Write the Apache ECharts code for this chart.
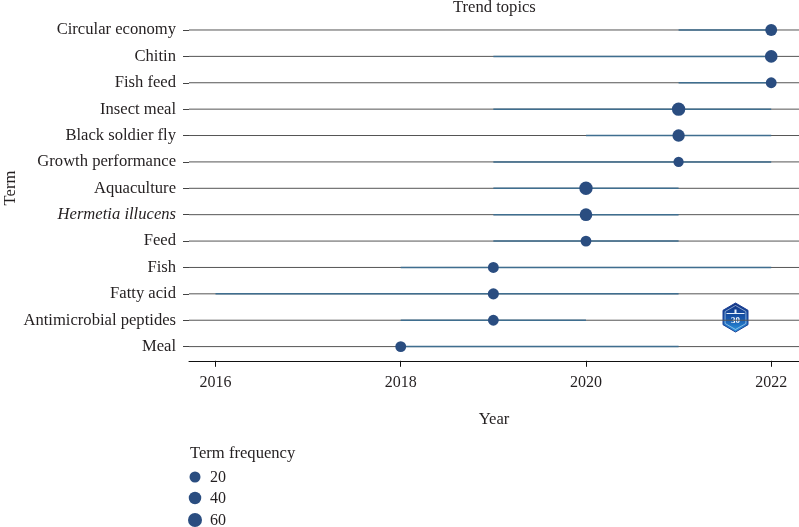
<!DOCTYPE html>
<html lang="en" style="height: 100%">

<head>
  <meta charset="utf-8">
</head>

<body style="height: 100%; margin: 0; background: #fff">
  <div id="container" style="height: 100%"></div>

  <script type="text/javascript" src="https://fastly.jsdelivr.net/npm/echarts@6/dist/echarts.min.js"></script>
  <script type="text/javascript">
    // values, top row first
    var terms = ['Circular economy', 'Chitin', 'Fish feed', 'Insect meal', 'Black soldier fly', 'Growth performance',
      'Aquaculture', 'Hermetia illucens', 'Feed', 'Fish', 'Fatty acid', 'Antimicrobial peptides', 'Meal'];
    var startYear = [2021, 2019, 2021, 2019, 2020, 2019, 2019, 2019, 2019, 2018, 2016, 2018, 2018];
    var endYear = [2022, 2022, 2022, 2022, 2022, 2022, 2021, 2021, 2021, 2022, 2021, 2020, 2021];
    var peakYear = [2022, 2022, 2022, 2021, 2021, 2021, 2020, 2020, 2020, 2019, 2019, 2019, 2018];
    var frequency = [32, 42, 18, 52, 38, 10, 52, 42, 18, 18, 22, 18, 18];
    var yearTicks = [2016, 2018, 2020, 2022];
    var legendValues = [20, 40, 60];

    var FONT = '"Liberation Serif", serif';
    var FONT_SIZE = 16.6;
    var TEXT = '#231f20';
    var DOT = '#2a4d80';
    var X_MIN = 2015.714;
    var X_MAX = 2022.3;

    function dotSize(freq) {
      return 9.5 + freq * 0.075;
    }

    var series = [];
    terms.forEach(function (term, i) {
      // full-width row rule
      series.push({
        type: 'line', data: [[X_MIN, term], [X_MAX, term]], symbol: 'none', silent: true, z: 1,
        lineStyle: { color: '#555', width: 1 }
      });
      series.push({
        type: 'line',
        data: [[startYear[i], term], [endYear[i], term]],
        symbol: 'none',
        silent: true,
        z: 3,
        lineStyle: { color: '#3f6e8f', width: 1.5 }
      });
    });
    series.push({
      type: 'scatter',
      z: 4,
      data: terms.map(function (term, i) {
        return { value: [peakYear[i], term], symbolSize: dotSize(frequency[i]) };
      }),
      itemStyle: { color: DOT, opacity: 1 }
    });

    // size legend, same scale as the dots
    var legendItems = [{
      type: 'text', x: 190, y: 445,
      style: { text: 'Term frequency', font: FONT_SIZE + 'px ' + FONT, fill: TEXT }
    }];
    legendValues.forEach(function (v, i) {
      var y = [477, 498, 520][i];
      legendItems.push({
        type: 'circle', shape: { cx: 195, cy: y, r: dotSize(v) / 2 }, style: { fill: DOT }
      });
      legendItems.push({
        type: 'text', x: 210, y: y - 7,
        style: { text: String(v), font: '16px ' + FONT, fill: TEXT }
      });
    });

    // the axis name gets pushed off the page by the long labels, so place it by hand
    var termName = {
      type: 'text', x: 11, y: 188, rotation: Math.PI / 2,
      style: { text: 'Term', font: FONT_SIZE + 'px ' + FONT, fill: TEXT, align: 'center', verticalAlign: 'middle' }
    };

    // journal badge sitting over the Antimicrobial peptides row
    var badge = {
      type: 'group', x: 735.5, y: 317.5, z: 20,
      children: [
        {
          type: 'polygon',
          shape: { points: [[0, -14.5], [12.5, -7.2], [12.5, 7.2], [0, 14.5], [-12.5, 7.2], [-12.5, -7.2]] },
          style: {
            stroke: '#1c3f94', lineWidth: 1,
            fill: new echarts.graphic.LinearGradient(0, 0, 0, 1, [
              { offset: 0, color: '#12307f' },
              { offset: 0.55, color: '#1757ad' },
              { offset: 1, color: '#2f9de2' }
            ])
          }
        },
        {
          type: 'polygon',
          shape: { points: [[0, -12], [10.4, -6], [10.4, 6], [0, 12], [-10.4, 6], [-10.4, -6]] },
          style: { stroke: '#cfe3f7', lineWidth: 0.6, fill: 'none' }
        },
        { type: 'rect', shape: { x: -9, y: -4.5, width: 18, height: 1 }, style: { fill: '#e6f0fb' } },
        { type: 'rect', shape: { x: -1, y: -8, width: 2, height: 4 }, style: { fill: '#e6f0fb' } },
        {
          type: 'text', x: 0, y: 3,
          style: { text: '30', font: 'bold 9px ' + FONT, fill: '#ffffff', align: 'center', verticalAlign: 'middle' }
        }
      ]
    };

    var myChart = echarts.init(document.getElementById('container'), null, { renderer: 'canvas' });

    myChart.setOption({
      animation: false,
      title: {
        text: 'Trend topics',
        left: 448,
        top: -6,
        textStyle: { fontFamily: FONT, fontSize: FONT_SIZE, fontWeight: 'normal', color: TEXT }
      },
      grid: { left: 189, right: 0, top: 16.8, height: 343, outerBoundsMode: 'none' },
      xAxis: {
        type: 'value',
        min: X_MIN,
        max: X_MAX,
        offset: 1,
        name: 'Year',
        nameLocation: 'middle',
        nameGap: 50,
        nameTextStyle: { fontFamily: FONT, fontSize: FONT_SIZE, color: TEXT },
        splitLine: { show: false },
        axisLine: { show: true, onZero: false, lineStyle: { color: '#111', width: 1 } },
        axisTick: { show: true, length: 6, customValues: yearTicks, lineStyle: { color: '#111' } },
        axisLabel: { customValues: yearTicks, margin: 14, fontFamily: FONT, fontSize: 16, color: TEXT,
          formatter: function (v) { return String(v); } }
      },
      yAxis: {
        type: 'category',
        data: terms,
        inverse: true,
        axisLine: { show: false },
        axisTick: { show: true, length: 6, alignWithLabel: true, lineStyle: { color: '#444' } },
        splitLine: { show: false },
        axisLabel: {
          margin: 13,
          fontFamily: FONT,
          fontSize: FONT_SIZE,
          color: TEXT,
          formatter: function (v) { return v === 'Hermetia illucens' ? '{it|' + v + '}' : v; },
          rich: { it: { fontFamily: FONT, fontSize: FONT_SIZE, fontStyle: 'italic', color: TEXT } }
        }
      },
      series: series,
      graphic: legendItems.concat([termName, badge])
    });

    window.addEventListener('resize', myChart.resize);
  </script>
</body>

</html>
